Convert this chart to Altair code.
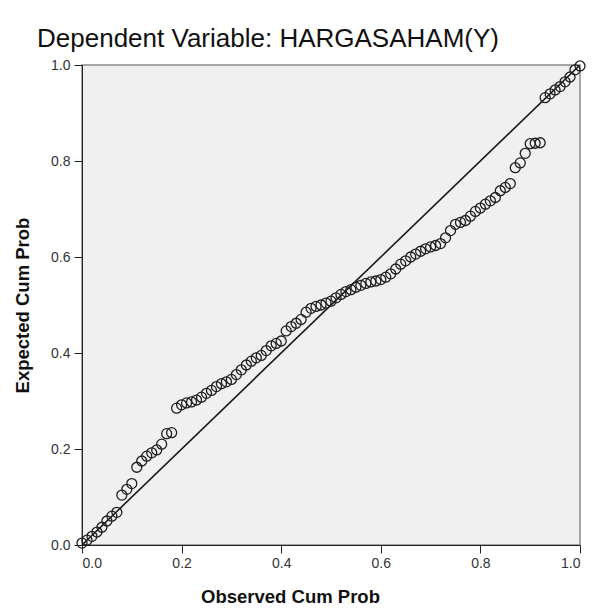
import altair as alt
import pandas as pd

observed = [
    0.00, 0.01, 0.02, 0.03, 0.04, 0.05, 0.06, 0.07, 0.08, 0.09,
    0.10, 0.11, 0.12, 0.13, 0.14, 0.15, 0.16, 0.17, 0.18, 0.19,
    0.20, 0.21, 0.22, 0.23, 0.24, 0.25, 0.26, 0.27, 0.28, 0.29,
    0.30, 0.31, 0.32, 0.33, 0.34, 0.35, 0.36, 0.37, 0.38, 0.39,
    0.40, 0.41, 0.42, 0.43, 0.44, 0.45, 0.46, 0.47, 0.48, 0.49,
    0.50, 0.51, 0.52, 0.53, 0.54, 0.55, 0.56, 0.57, 0.58, 0.59,
    0.60, 0.61, 0.62, 0.63, 0.64, 0.65, 0.66, 0.67, 0.68, 0.69,
    0.70, 0.71, 0.72, 0.73, 0.74, 0.75, 0.76, 0.77, 0.78, 0.79,
    0.80, 0.81, 0.82, 0.83, 0.84, 0.85, 0.86, 0.87, 0.88, 0.89,
    0.90, 0.91, 0.92, 0.93, 0.94, 0.95, 0.96, 0.97, 0.98, 0.99,
    1.00,
]
expected = [
    0.004, 0.010, 0.018, 0.027, 0.037, 0.050, 0.060, 0.068, 0.104, 0.116,
    0.128, 0.162, 0.175, 0.185, 0.192, 0.198, 0.210, 0.232, 0.234, 0.285,
    0.292, 0.296, 0.298, 0.302, 0.308, 0.316, 0.322, 0.330, 0.336, 0.340,
    0.345, 0.355, 0.365, 0.375, 0.383, 0.390, 0.395, 0.405, 0.415, 0.420,
    0.425, 0.446, 0.455, 0.462, 0.470, 0.485, 0.493, 0.497, 0.500, 0.504,
    0.508, 0.515, 0.522, 0.528, 0.532, 0.537, 0.541, 0.545, 0.548, 0.550,
    0.553, 0.558, 0.565, 0.575, 0.585, 0.592, 0.600, 0.606, 0.612, 0.617,
    0.621, 0.624, 0.628, 0.640, 0.655, 0.668, 0.672, 0.676, 0.685, 0.695,
    0.702, 0.710, 0.717, 0.724, 0.738, 0.745, 0.753, 0.786, 0.796, 0.816,
    0.836, 0.837, 0.838, 0.932, 0.940, 0.948, 0.955, 0.965, 0.975, 0.990,
    0.998,
]
ref_x = [0.0, 1.0]
ref_y = [0.0, 1.0]
tick_values = [0.0, 0.2, 0.4, 0.6, 0.8, 1.0]

pts = pd.DataFrame({"obs": observed, "exp": expected})
ref = pd.DataFrame({"obs": ref_x, "exp": ref_y})

FONT = "Liberation Sans"

xscale = alt.Scale(domain=[0, 1], nice=False, zero=False)
yscale = alt.Scale(domain=[0, 1], nice=False, zero=False)

xaxis = alt.Axis(
    title="Observed Cum Prob", values=tick_values, format=".1f", grid=False,
    tickSize=8, labelPadding=3, labelFontSize=14, labelColor="#333333",
    labelFont=FONT, titleFont=FONT, titleFontSize=18.5, titleFontWeight="bold",
    titleColor="#111111", titleX=208, titleY=51, titleBaseline="middle",
    titleAlign="center", domainColor="#222222", tickColor="#222222",
)
yaxis = alt.Axis(
    title="Expected Cum Prob", values=tick_values, format=".1f", grid=False,
    tickSize=8, labelPadding=4, labelFontSize=14, labelColor="#333333",
    labelFont=FONT, titleFont=FONT, titleFontSize=18.5, titleFontWeight="bold",
    titleColor="#111111", titleX=-60, titleY=240, titleBaseline="middle",
    titleAlign="center", titleAngle=-90, domainColor="#222222", tickColor="#222222",
)

line = alt.Chart(ref).mark_line(color="#1a1a1a", strokeWidth=1.6, clip=True).encode(
    x=alt.X("obs:Q", scale=xscale, axis=xaxis),
    y=alt.Y("exp:Q", scale=yscale, axis=yaxis),
)

points = alt.Chart(pts).mark_point(
    shape="circle", filled=False, size=100, stroke="#1e1e1e", strokeWidth=1.3, opacity=1,
).encode(
    x=alt.X("obs:Q", scale=xscale),
    y=alt.Y("exp:Q", scale=yscale),
)

chart = alt.layer(line, points).properties(
    width=498,
    height=480,
    autosize=alt.AutoSizeParams(type="none"),
    padding={"left": 74, "top": 57, "right": 11, "bottom": 63},
    title=alt.TitleParams(
        text="Dependent Variable: HARGASAHAM(Y)", anchor="middle", dx=-63,
        font=FONT, fontSize=26, fontWeight="normal", color="#111111", offset=6,
    ),
).configure_view(
    fill="#f0f0f0", stroke="#8a8a8a", strokeWidth=1.5,
)

chart.save("out.html", embed_options={"renderer": "svg", "actions": False})
